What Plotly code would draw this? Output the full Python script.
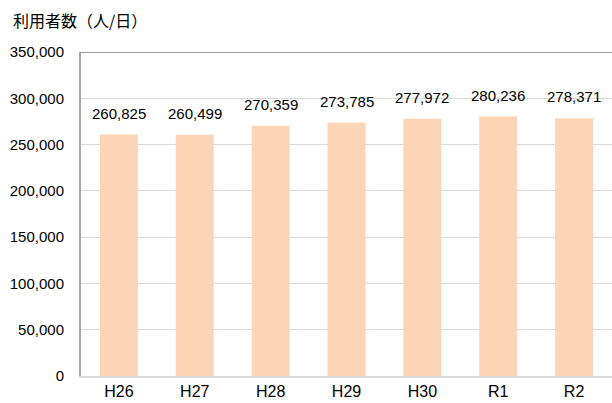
import plotly.graph_objects as go

categories = ["H26", "H27", "H28", "H29", "H30", "R1", "R2"]
users = [260825, 260499, 270359, 273785, 277972, 280236, 278371]
label_text = [f"{v:,}" for v in users]

BAR = "#FBD5B5"
FONT = "Liberation Sans, Arial, sans-serif"

fig = go.Figure()
fig.add_trace(go.Bar(
    x=categories, y=users,
    marker=dict(color=BAR, line=dict(width=0)),
    width=0.5,
    hoverinfo="skip",
))

for c, v, t in zip(categories, users, label_text):
    fig.add_annotation(x=c, y=v, text=t, showarrow=False, yanchor="bottom",
                       yshift=11, font=dict(family=FONT, size=15, color="#000000"))

fig.add_annotation(text="利用者数（人/日）", xref="paper", yref="paper",
                   x=(11 - 81) / 531, y=1 + 32 / 323, xanchor="left", yanchor="middle",
                   showarrow=False,
                   font=dict(family="Noto Sans CJK JP, sans-serif", size=16, color="#000000"))

fig.add_shape(type="line", xref="paper", yref="y", x0=0, x1=1,
              y0=350000, y1=350000, line=dict(color="#9a9a9a", width=2), layer="above")

fig.update_layout(
    width=612, height=403,
    margin=dict(l=81, r=0, t=52, b=27),
    paper_bgcolor="white", plot_bgcolor="white",
    showlegend=False,
    font=dict(family=FONT, size=15, color="#000000"),
    xaxis=dict(showgrid=False, showline=True, linecolor="#d9d9d9", linewidth=2,
               ticks="", tickfont=dict(size=16), range=[-0.5, 6.5]),
    yaxis=dict(range=[0, 350000], tickvals=list(range(0, 350001, 50000)),
               tickformat=",d", showgrid=True, gridcolor="#d9d9d9", gridwidth=1,
               showline=True, linecolor="#a6a6a6", linewidth=2, zeroline=False,
               ticks="", ticklabelstandoff=12, tickfont=dict(size=15)),
)

fig.write_html("out.html", config={"displayModeBar": False},
               post_script="document.body.style.margin='0';document.body.style.overflow='hidden';")
